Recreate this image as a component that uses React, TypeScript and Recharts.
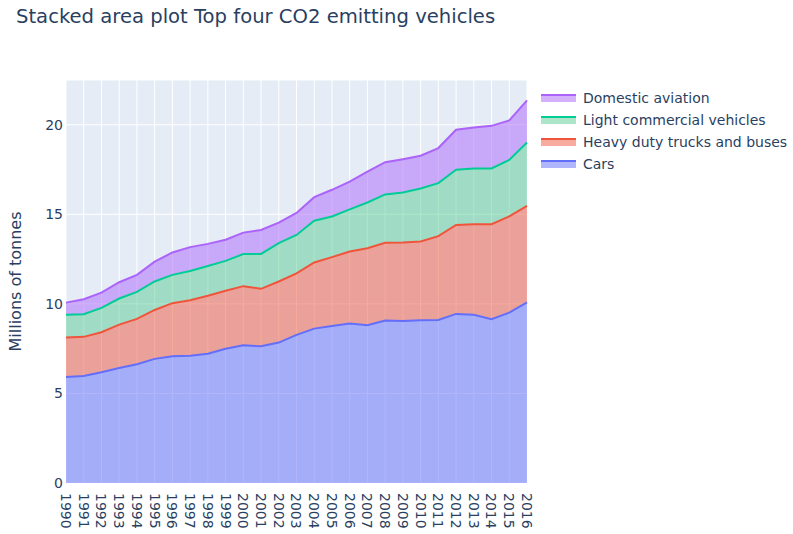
import React from 'react';
import { AreaChart, Area, XAxis, YAxis, CartesianGrid } from 'recharts';

const years = [
  1990, 1991, 1992, 1993, 1994, 1995, 1996, 1997, 1998, 1999, 2000, 2001, 2002, 2003,
  2004, 2005, 2006, 2007, 2008, 2009, 2010, 2011, 2012, 2013, 2014, 2015, 2016,
];

// millions of tonnes CO2 per year
const cars = [
  5.92, 5.98, 6.18, 6.42, 6.63, 6.93, 7.08, 7.11, 7.22, 7.5, 7.69, 7.63, 7.84, 8.27,
  8.62, 8.77, 8.9, 8.81, 9.07, 9.05, 9.09, 9.1, 9.44, 9.39, 9.15, 9.51, 10.09,
];
const heavyDuty = [
  2.2, 2.18, 2.24, 2.42, 2.53, 2.73, 2.96, 3.09, 3.23, 3.23, 3.3, 3.21, 3.41, 3.43,
  3.69, 3.84, 4.02, 4.3, 4.34, 4.38, 4.39, 4.68, 4.97, 5.06, 5.3, 5.37, 5.38,
];
const lightCommercial = [
  1.28, 1.26, 1.36, 1.46, 1.51, 1.59, 1.58, 1.64, 1.67, 1.67, 1.79, 1.95, 2.14, 2.15,
  2.33, 2.27, 2.36, 2.55, 2.7, 2.79, 2.96, 2.96, 3.08, 3.11, 3.11, 3.16, 3.54,
];
const aviation = [
  0.67, 0.84, 0.85, 0.91, 0.95, 1.11, 1.25, 1.33, 1.23, 1.18, 1.2, 1.34, 1.15, 1.23,
  1.32, 1.49, 1.55, 1.73, 1.8, 1.86, 1.83, 1.96, 2.23, 2.29, 2.38, 2.2, 2.35,
];

const yTicks = [0, 5, 10, 15, 20];

const series = [
  { key: 'cars', name: 'Cars', color: '#636efa', fill: '#636efa' },
  { key: 'heavy', name: 'Heavy duty trucks and buses', color: '#EF553B', fill: '#EF553B' },
  { key: 'light', name: 'Light commercial vehicles', color: '#00cc96', fill: '#5bcc94' },
  { key: 'aviation', name: 'Domestic aviation', color: '#ab63fa', fill: '#ab63fa' },
];

const data = years.map((year, i) => ({
  year,
  cars: cars[i],
  heavy: heavyDuty[i],
  light: lightCommercial[i],
  aviation: aviation[i],
}));

const FONT = '"DejaVu Sans", Verdana, sans-serif';
const TEXT = '#2a3f5f';

const YearTick = (props: any) => {
  const { x, y, payload } = props;
  return (
    <text
      transform={`translate(${x},${y + 10}) rotate(90)`}
      textAnchor="start"
      dy="0.36em"
      fontSize={14}
      fontFamily={FONT}
      fill={TEXT}
    >
      {payload.value}
    </text>
  );
};

const LegendBox = () => (
  <div style={{ position: 'absolute', left: 541, top: 87, fontFamily: FONT, fontSize: 14, color: TEXT }}>
    {[...series].reverse().map((s) => (
      <div key={s.key} style={{ display: 'flex', alignItems: 'center', height: 22 }}>
        <div style={{ width: 35, height: 8, marginRight: 7, position: 'relative' }}>
          <div style={{ position: 'absolute', top: 0, left: 0, width: 35, height: 8, background: s.fill, opacity: 0.5 }} />
          <div style={{ position: 'absolute', top: 0, left: 0, width: 35, height: 2, background: s.color }} />
        </div>
        <span style={{ whiteSpace: 'nowrap' }}>{s.name}</span>
      </div>
    ))}
  </div>
);

export default function App() {
  return (
    <div style={{ position: 'absolute', left: 0, top: 0, width: 793, height: 534, background: '#fff' }}>
      <div
        style={{
          position: 'absolute',
          left: 16,
          top: 5,
          fontFamily: FONT,
          fontSize: 19.6,
          color: TEXT,
          whiteSpace: 'nowrap',
        }}
      >
        Stacked area plot Top four CO2 emitting vehicles
      </div>
      <AreaChart width={793} height={534} data={data} margin={{ top: 80, right: 266, bottom: 0, left: 0 }}>
        <CartesianGrid stroke="#ffffff" strokeWidth={1} fill="#E5ECF6" fillOpacity={1} />
        <XAxis
          dataKey="year"
          type="category"
          interval={0}
          height={51}
          axisLine={false}
          tickLine={false}
          tickSize={0}
          tickMargin={0}
          tick={<YearTick />}
        />
        <YAxis
          type="number"
          domain={[0, 22.5]}
          ticks={yTicks}
          width={66}
          axisLine={false}
          tickLine={false}
          tickSize={0}
          tickMargin={3}
          tick={{ fontSize: 14, fontFamily: FONT, fill: TEXT }}
          label={{
            value: 'Millions of tonnes',
            angle: -90,
            position: 'insideLeft',
            offset: 15,
            style: { textAnchor: 'middle', fontSize: 16, fontFamily: FONT, fill: TEXT },
          }}
        />
        {/* fills first, then the outlines on top of every fill */}
        {series.map((s) => (
          <Area
            key={`fill-${s.key}`}
            type="linear"
            dataKey={s.key}
            stackId="fill"
            stroke="none"
            fill={s.fill}
            fillOpacity={0.5}
            dot={false}
            activeDot={false}
            isAnimationActive={false}
          />
        ))}
        {series.map((s) => (
          <Area
            key={`line-${s.key}`}
            type="linear"
            dataKey={s.key}
            name={s.name}
            stackId="line"
            stroke={s.color}
            strokeWidth={2}
            fill="none"
            dot={false}
            activeDot={false}
            isAnimationActive={false}
          />
        ))}
      </AreaChart>
      <LegendBox />
    </div>
  );
}
